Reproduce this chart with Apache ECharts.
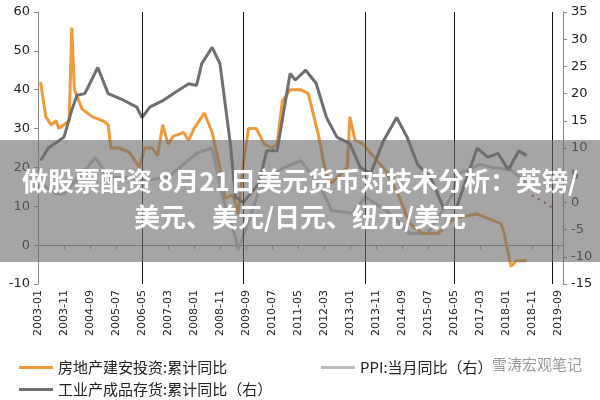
<!DOCTYPE html>
<html><head><meta charset="utf-8">
<script src="https://cdn.jsdelivr.net/npm/echarts@6/dist/echarts.min.js"></script>
<style>html,body{margin:0;padding:0;background:#fff}#c{width:600px;height:400px}</style>
</head><body><div id="c"></div>
<script>
// categories: monthly 2003-01 .. 2019-11
const months = [];
for (let y = 2003; y <= 2019; y++) for (let m = 1; m <= 12; m++) {
  const s = y + '-' + String(m).padStart(2, '0');
  months.push(s);
  if (s === '2019-11') break;
}
const constrDates = ['2003-02','2003-04','2003-06','2003-08','2003-09','2003-11','2004-01','2004-02','2004-03','2004-06','2004-10','2005-02','2005-04','2005-05','2005-08','2005-12','2006-03','2006-04','2006-06','2006-09','2006-11','2007-01','2007-03','2007-05','2007-09','2007-11','2008-01','2008-05','2008-08','2008-11','2009-01','2009-04','2009-06','2009-08','2009-10','2010-01','2010-04','2010-07','2010-09','2010-11','2011-02','2011-06','2011-09','2012-01','2012-04','2012-06','2012-12','2013-01','2013-03','2013-06','2014-03','2014-08','2014-12','2015-05','2015-11','2016-05','2017-02','2017-11','2017-12','2018-03','2018-05','2018-09'];
const constrVals = [42,33,31,32,30,31,32,56,40,35,33,32,31,25,25,24,21,20,25,25,23,31,26,28,29,27,30,34,29,20,12,13,8,21,30,30,26,25,26,37,40,40,39,28,17.5,16,20,33,27,26,19,12.4,5.6,3,3,7,8,5.6,4,-5.5,-4,-4];
const invDates = ['2003-02','2003-05','2003-11','2004-02','2004-04','2004-07','2004-12','2005-04','2005-09','2006-03','2006-05','2006-08','2007-01','2007-06','2007-11','2008-02','2008-04','2008-08','2008-11','2009-03','2009-05','2009-08','2010-02','2010-05','2010-09','2011-02','2011-04','2011-08','2011-12','2012-04','2012-08','2013-01','2013-05','2013-09','2014-02','2014-07','2014-11','2015-03','2015-08','2016-01','2016-06','2016-10','2017-02','2017-06','2017-10','2018-02','2018-06','2018-09'];
const invVals = [7.7,10,12,17,19.7,20,24.8,20,19,17.5,15.6,17.5,18.7,20.3,21.8,21.5,25.5,28.5,25.5,10.8,1,0,3.5,9.5,9.5,23.7,22.5,24.3,21.9,15.6,12,10.8,6.4,5.3,11.4,15.6,12,7,4.6,-1,-1,4.6,10,8.3,9,6,9.5,8.6];
const fcDates = ['2018-11','2019-02','2019-07'];
const fcVals = [1.3,0.5,-1];
const ppiDates = ['2003-01','2003-02','2003-08','2003-11','2004-08','2004-11','2005-04','2005-12','2006-05','2007-03','2008-02','2008-08','2008-12','2009-05','2009-06','2010-02','2010-10','2011-06','2012-01','2012-06','2013-02','2013-07','2014-03','2014-12','2015-07','2016-04','2016-07','2017-03','2017-08','2018-03','2018-09'];
const ppiVals = [5.9,3.5,1.6,1.6,6.4,8.3,4.6,4.6,4,4.6,9,10,1,-6.4,-8.8,2,6,7.7,3.5,-1.5,-2,1,-1.5,-5.7,-5.7,1,5.3,7,6.4,6,3.5];
const vLines = ['2006-05','2009-08','2013-07','2016-05','2019-07'];
const leftTicks = [-10, 60, 10];
const rightTicks = [-15, 35, 5];

const pair = (d, v) => d.map((x, i) => [x, v[i]]);
const chart = echarts.init(document.getElementById('c'));
const font = 'DejaVu Sans';
const lg = { fontSize: 15, color: '#222', fontFamily: 'Noto Sans CJK SC' };
chart.setOption({
  animation: false,
  textStyle: { fontFamily: font },
  grid: { left: 38, right: 37, top: 12, bottom: 116 },
  xAxis: [{
    type: 'category', data: months, boundaryGap: false, position: 'bottom',
    axisLine: { show: false }, axisTick: { show: false },
    axisLabel: { interval: 9, rotate: 90, color: '#222', fontSize: 11, margin: 6, fontFamily: font }
  }, {
    type: 'category', data: months, boundaryGap: false,
    axisLine: { onZero: true, onZeroAxisIndex: 0, lineStyle: { color: '#888', width: 1 } },
    axisTick: { show: true, interval: 9, inside: true, length: 4, lineStyle: { color: '#888' } },
    axisLabel: { show: false }
  }],
  yAxis: [{
    type: 'value', min: leftTicks[0], max: leftTicks[1], interval: leftTicks[2],
    splitLine: { show: false },
    axisLine: { show: true, lineStyle: { color: '#888' } },
    axisTick: { show: true, length: 4, lineStyle: { color: '#888' } },
    axisLabel: { color: '#222', fontSize: 13, margin: 8 }
  }, {
    type: 'value', min: rightTicks[0], max: rightTicks[1], interval: rightTicks[2],
    splitLine: { show: false },
    axisLine: { show: true, lineStyle: { color: '#888' } },
    axisTick: { show: true, length: 4, lineStyle: { color: '#888' } },
    axisLabel: { color: '#222', fontSize: 13, margin: 8 }
  }],
  legend: [
    { left: 14, top: 355, itemWidth: 34, itemHeight: 3, icon: 'rect', itemGap: 4, textStyle: lg, data: ['房地产建安投资:累计同比'] },
    { left: 316, top: 355, itemWidth: 34, itemHeight: 3, icon: 'rect', textStyle: lg, data: ['PPI:当月同比（右）'] },
    { left: 14, top: 377, itemWidth: 34, itemHeight: 3, icon: 'rect', textStyle: lg, data: ['工业产成品存货:累计同比（右）'] }
  ],
  series: [
    { name: 'PPI:当月同比（右）', type: 'line', yAxisIndex: 1, data: pair(ppiDates, ppiVals),
      showSymbol: false, lineStyle: { color: '#bdbdbd', width: 3 }, itemStyle: { color: '#bdbdbd' }, z: 2 },
    { name: '房地产建安投资:累计同比', type: 'line', yAxisIndex: 0, data: pair(constrDates, constrVals),
      showSymbol: false, lineStyle: { color: '#f0993a', width: 3 }, itemStyle: { color: '#f0993a' }, z: 3,
      markLine: { silent: true, symbol: 'none', label: { show: false },
        lineStyle: { color: '#111', width: 1, type: 'solid' },
        data: vLines.map(d => ({ xAxis: d })) } },
    { name: '工业产成品存货:累计同比（右）', type: 'line', yAxisIndex: 1, data: pair(invDates, invVals),
      showSymbol: false, lineStyle: { color: '#6f6f6f', width: 3 }, itemStyle: { color: '#6f6f6f' }, z: 4 },
    { name: '预测', type: 'line', yAxisIndex: 1, data: pair(fcDates, fcVals),
      showSymbol: false, lineStyle: { color: '#a33', width: 2, type: [2, 5] }, z: 4 }
  ],
  graphic: [
    { type: 'rect', left: 0, top: 140, shape: { width: 600, height: 122 },
      style: { fill: 'rgba(110,110,110,0.62)' }, z: 100 },
    { type: 'text', left: 'center', top: 168, z: 101,
      style: { text: '做股票配资 8月21日美元货币对技术分析：英镑/', fill: '#fff', font: 'bold 26px "Noto Sans CJK SC"' } },
    { type: 'text', left: 'center', top: 204, z: 101,
      style: { text: '美元、美元/日元、纽元/美元', fill: '#fff', font: 'bold 26px "Noto Sans CJK SC"' } },
    { type: 'text', left: 492, top: 357, z: 101,
      style: { text: '雪涛宏观笔记', fill: '#999', font: '15px "Noto Sans CJK SC"' } }
  ]
});
</script></body></html>
